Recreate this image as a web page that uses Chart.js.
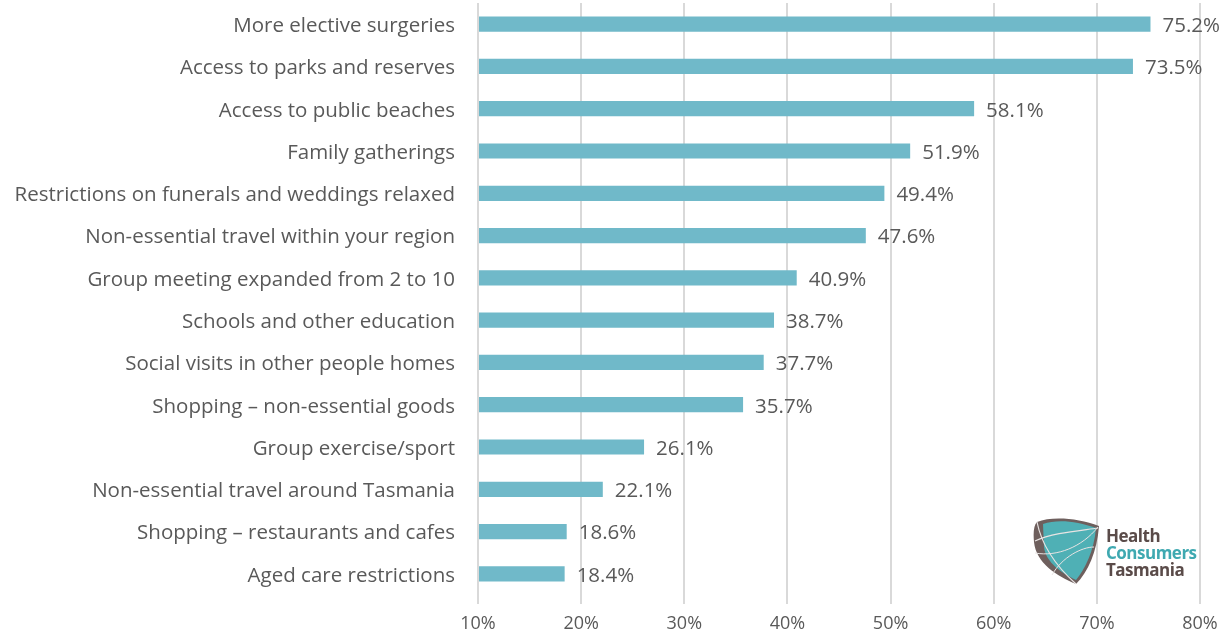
<!DOCTYPE html>
<html>
<head>
<meta charset="utf-8">
<script src="https://cdn.jsdelivr.net/npm/chart.js@4.4.1/dist/chart.umd.min.js"></script>
<style>
  html, body { margin: 0; padding: 0; background: #ffffff; }
  #wrap { position: relative; width: 1223px; height: 634px; }
  canvas { display: block; }
  #logo { position: absolute; left: 1030px; top: 515px; width: 190px; height: 75px; }
  #logo svg { position: absolute; left: 2px; top: 2px; }
  #logo .t { position: absolute; left: 76px; font-family: "Open Sans", Lato, sans-serif; font-weight: 700; font-size: 17px; line-height: 17px; letter-spacing: -0.5px; }
</style>
</head>
<body>
<div id="wrap">
  <canvas id="c" width="1223" height="634"></canvas>
  <div id="logo">
    <svg width="72" height="70" viewBox="0 0 72 70">
      <path d="M5 5 C 20 -1, 46 1, 67 9 C 65 35, 56 55, 44 67 C 25 59, 4 46, 2 25 C 1 15, 2 8, 5 5 Z" fill="#6e5f5d"/>
      <path d="M11 7 C 25 2, 45 4, 64 11 C 62 34, 53 52, 44 63 C 30 56, 14 46, 12 30 Z" fill="#4fb0b5"/>
      <path d="M3 24 C 20 16, 45 14, 66 11" stroke="#e8e4e3" stroke-width="1.2" fill="none"/>
      <path d="M5 5 C 10 30, 25 50, 44 67" stroke="#e8e4e3" stroke-width="1.2" fill="none"/>
      <path d="M3 36 C 25 40, 50 30, 66 10" stroke="#e8e4e3" stroke-width="1" fill="none"/>
      <path d="M20 58 C 30 40, 50 30, 62 30" stroke="#e8e4e3" stroke-width="1" fill="none"/>
    </svg>
    <div class="t" style="top:12px;color:#5a4b49;">Health</div>
    <div class="t" style="top:29px;color:#3fa9b1;">Consumers</div>
    <div class="t" style="top:46px;color:#5a4b49;">Tasmania</div>
  </div>
</div>
<script>
const categories = [
  "More elective surgeries",
  "Access to parks and reserves",
  "Access to public beaches",
  "Family gatherings",
  "Restrictions on funerals and weddings relaxed",
  "Non-essential travel within your region",
  "Group meeting expanded from 2 to 10",
  "Schools and other education",
  "Social visits in other people homes",
  "Shopping \u2013 non-essential goods",
  "Group exercise/sport",
  "Non-essential travel around Tasmania",
  "Shopping \u2013 restaurants and cafes",
  "Aged care restrictions"
];
const values = [75.2, 73.5, 58.1, 51.9, 49.4, 47.6, 40.9, 38.7, 37.7, 35.7, 26.1, 22.1, 18.6, 18.4];
const axisMin = 10;
const axisMax = 80;
const axisStep = 10;

const FONT = "'Open Sans', Lato, sans-serif";
const TEXT = "#595959";

const valueLabels = {
  id: 'valueLabels',
  afterDatasetsDraw(chart) {
    const ctx = chart.ctx;
    const meta = chart.getDatasetMeta(0);
    ctx.save();
    ctx.font = "20.5px " + FONT;
    ctx.fillStyle = TEXT;
    ctx.textAlign = 'left';
    ctx.textBaseline = 'middle';
    meta.data.forEach((bar, i) => {
      ctx.fillText(values[i].toFixed(1) + '%', bar.x + 12, bar.y + 2);
    });
    ctx.restore();
  }
};

new Chart(document.getElementById('c'), {
  type: 'bar',
  data: {
    labels: categories,
    datasets: [{
      data: values,
      base: axisMin,
      backgroundColor: '#70b9c9',
      borderWidth: 0,
      categoryPercentage: 1,
      barPercentage: 0.36
    }]
  },
  options: {
    indexAxis: 'y',
    responsive: false,
    animation: false,
    layout: { padding: { top: 3, right: 23, left: 0, bottom: 0 } },
    plugins: { legend: { display: false }, tooltip: { enabled: false } },
    scales: {
      x: {
        min: axisMin,
        max: axisMax,
        ticks: {
          stepSize: axisStep,
          callback: v => v + '%',
          color: TEXT,
          font: { family: FONT, size: 18 },
          padding: 9
        },
        grid: { color: '#d9d9d9', lineWidth: 2, tickLength: 9, drawTicks: true },
        border: { display: false },
        afterFit(scale) { scale.height = 39; scale.paddingLeft = 0; scale.paddingRight = 0; }
      },
      y: {
        ticks: {
          color: TEXT,
          font: { family: FONT, size: 20.5 },
          padding: 23,
          labelOffset: 2,
          autoSkip: false
        },
        grid: { display: false, drawTicks: false },
        border: { display: false },
        afterFit(scale) { scale.width = 478; scale.paddingTop = 0; scale.paddingBottom = 0; }
      }
    }
  },
  plugins: [valueLabels]
});
</script>
</body>
</html>
